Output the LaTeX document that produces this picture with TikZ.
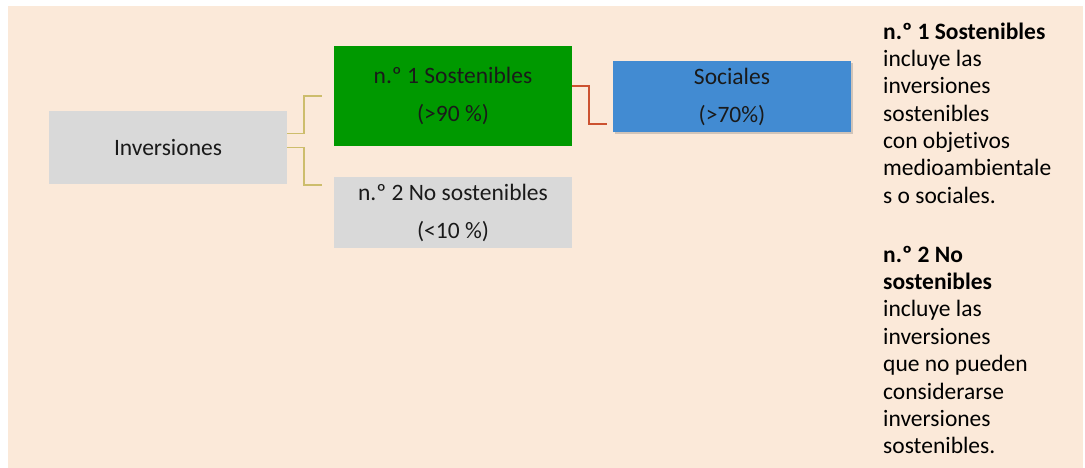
\documentclass[tikz,border=0pt]{standalone}
\usepackage{fontspec}
\setmainfont{Carlito}[Ligatures=NoCommon]
\usetikzlibrary{shadows,calc}
\definecolor{bgpeach}{HTML}{FBE9D9}
\definecolor{boxgray}{HTML}{D9D9D9}
\definecolor{boxgreen}{HTML}{009900}
\definecolor{boxblue}{HTML}{428BD2}
\definecolor{olive}{HTML}{CDBD6C}
\definecolor{redline}{HTML}{CC5230}
\definecolor{txt}{HTML}{1A1A1A}
\tikzset{
  box/.style={rectangle, draw=none, minimum width=238pt, inner sep=0pt, align=center,
    text=txt, font=\fontsize{23.5}{38}\selectfont},
  sidetext/.style={anchor=base west, inner sep=0pt, align=left, text=black,
    font=\fontsize{23.5}{27.4}\selectfont},
  oliveline/.style={draw=olive, line width=1.8pt},
  redconn/.style={draw=redline, line width=1.8pt}
}
\begin{document}
\begin{tikzpicture}[x=1pt,y=-1pt]
\useasboundingbox (0,0) rectangle (1085,468);
\fill[bgpeach] (8,6) rectangle (1083,468);
\node[box, fill=boxgray, minimum height=73pt] (inv) at (168,147.5) {Inversiones};
\node[box, fill=boxgreen, minimum height=100pt] (sost) at (453,96) {n.º 1 Sostenibles\\(>90 \%)};
\node[box, fill=boxgray, minimum height=71pt] (nosost) at (453,212.5) {n.º 2 No sostenibles\\(<10 \%)};
\node[box, fill=boxblue, minimum height=71pt, drop shadow={shadow xshift=2pt, shadow yshift=-2pt, opacity=0.35}] (soc) at (732,96.5) {Sociales\\(>70\%)};
\coordinate (ya) at (322,96);
\coordinate (yb) at (322,185);
\coordinate (ra) at (607,124);
\draw[oliveline] ($(inv.east)+(0,-14)$) -- ++(17,0) |- (ya);
\draw[oliveline] (inv.east) -- ++(17,0) |- (yb);
\draw[redconn] ($(sost.east)+(0,-10)$) -- ++(17,0) |- (ra);
% anchor base = baseline of the last line
\node[sidetext] (desc1) at (883,203.4) {\textbf{n.º 1 Sostenibles}\\incluye las\\inversiones\\sostenibles\\con objetivos\\medioambientale\\s o sociales.};
\node[sidetext] (desc2) at (883,453.8) {\textbf{n.º 2 No}\\\textbf{sostenibles}\\incluye las\\inversiones\\que no pueden\\considerarse\\inversiones\\sostenibles.};
\end{tikzpicture}
\end{document}
